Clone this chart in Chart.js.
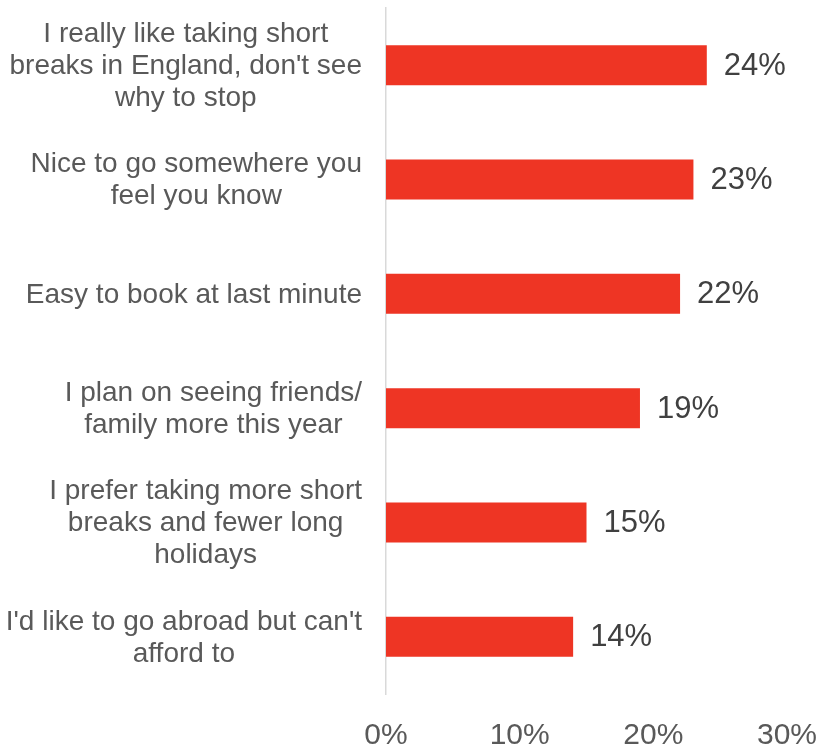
<!DOCTYPE html>
<html>
<head>
<meta charset="utf-8">
<script src="https://cdn.jsdelivr.net/npm/chart.js@4/dist/chart.umd.min.js"></script>
<style>
  html, body { margin: 0; padding: 0; background: #ffffff; overflow: hidden; }
  canvas { display: block; }
</style>
</head>
<body>
<canvas id="chart" width="823" height="778"></canvas>
<script>
// Motivos para continuar com short breaks na Inglaterra (%)
const categorias = [
  ['I really like taking short', "breaks in England, don't see", 'why to stop'],
  ['Nice to go somewhere you', 'feel you know'],
  ['Easy to book at last minute'],
  ['I plan on seeing friends/', 'family more this year'],
  ['I prefer taking more short', 'breaks and fewer long', 'holidays'],
  ["I'd like to go abroad but can't", 'afford to'],
];
const valores = [24, 23, 22, 19, 15, 14];
const ticksX = [0, 10, 20, 30];

const COR_BARRA = '#EE3524';
const COR_TEXTO = '#595959';
const COR_VALOR = '#404040';
const FONTE = "'Liberation Sans', Arial, sans-serif";

// Rótulos das categorias: bloco alinhado à direita, linhas centralizadas
const rotulosCategorias = {
  id: 'rotulosCategorias',
  afterDraw(chart) {
    const { ctx } = chart;
    const y = chart.scales.y;
    const direita = 362;
    const alturaLinha = 32;
    ctx.save();
    ctx.font = `28px ${FONTE}`;
    ctx.fillStyle = COR_TEXTO;
    ctx.textAlign = 'center';
    ctx.textBaseline = 'middle';
    categorias.forEach((linhas, i) => {
      const yc = y.getPixelForTick(i) + 1;
      const larg = Math.max(...linhas.map(l => ctx.measureText(l).width));
      const xc = direita - larg / 2;
      const y0 = yc - (linhas.length - 1) * alturaLinha / 2;
      linhas.forEach((l, k) => ctx.fillText(l, xc, y0 + k * alturaLinha));
    });
    ctx.restore();
  },
};

// Valor ao lado de cada barra
const rotulosValores = {
  id: 'rotulosValores',
  afterDatasetsDraw(chart) {
    const { ctx } = chart;
    const meta = chart.getDatasetMeta(0);
    ctx.save();
    ctx.font = `31px ${FONTE}`;
    ctx.fillStyle = COR_VALOR;
    ctx.textAlign = 'left';
    ctx.textBaseline = 'middle';
    meta.data.forEach((bar, i) => {
      ctx.fillText(valores[i] + '%', bar.x + 17, bar.y + 1);
    });
    ctx.restore();
  },
};

new Chart(document.getElementById('chart'), {
  type: 'bar',
  data: {
    labels: categorias.map(c => c.join(' ')),
    datasets: [{
      data: valores,
      backgroundColor: COR_BARRA,
      borderWidth: 0,
      barPercentage: 0.35,
      categoryPercentage: 1,
    }],
  },
  options: {
    indexAxis: 'y',
    responsive: false,
    animation: false,
    layout: { padding: { top: 8, right: 36, bottom: 0, left: 0 } },
    plugins: { legend: { display: false }, tooltip: { enabled: false } },
    scales: {
      x: {
        min: 0,
        max: 30,
        afterBuildTicks: scale => { scale.ticks = ticksX.map(v => ({ value: v })); },
        // a margem direita fica por conta do layout.padding
        afterFit: scale => { scale.paddingLeft = 0; scale.paddingRight = 0; },
        grid: { display: false, drawTicks: false },
        border: { display: false },
        ticks: {
          padding: 24,
          color: COR_TEXTO,
          font: { family: FONTE, size: 30 },
          callback: v => v + '%',
        },
      },
      y: {
        afterFit: scale => { scale.width = 386; },
        grid: { display: false, drawTicks: false },
        border: { display: true, color: '#d9d9d9', width: 1.5 },
        ticks: { display: false },
      },
    },
  },
  plugins: [rotulosCategorias, rotulosValores],
});
</script>
</body>
</html>
